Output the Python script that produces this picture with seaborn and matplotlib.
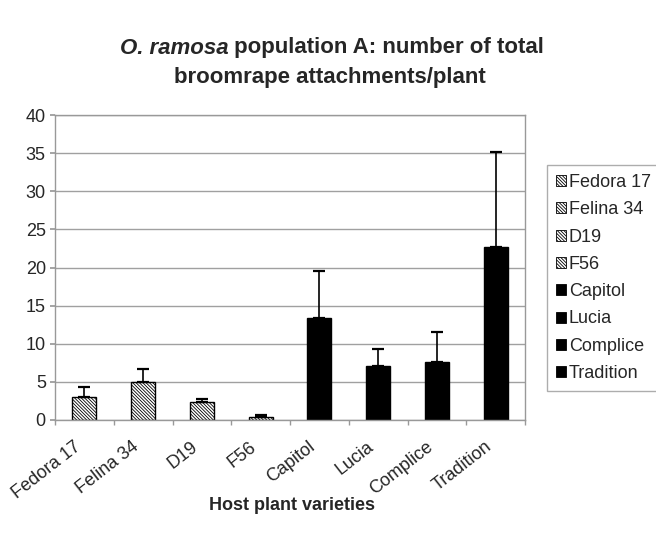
import matplotlib
matplotlib.use("Agg")
import matplotlib.pyplot as plt
import matplotlib.transforms as mtransforms
import seaborn as sns
import pandas as pd
from matplotlib.patches import Patch

varieties = ["Fedora 17", "Felina 34", "D19", "F56", "Capitol", "Lucia", "Complice", "Tradition"]
means = [3.0, 5.0, 2.3, 0.4, 13.4, 7.1, 7.6, 22.7]
errors = [1.3, 1.7, 0.5, 0.2, 6.2, 2.2, 3.9, 12.5]
groups = ["hatched", "hatched", "hatched", "hatched", "black", "black", "black", "black"]
y_ticks = [0, 5, 10, 15, 20, 25, 30, 35, 40]

sns.set_theme(style="white")
plt.rcParams["font.family"] = ["Liberation Sans", "DejaVu Sans"]
plt.rcParams["hatch.linewidth"] = 0.6

HATCH = "\\" * 10

df = pd.DataFrame({"variety": varieties, "mean": means, "err": errors, "group": groups})

fig = plt.figure(figsize=(6.56, 5.4), dpi=100)
ax = fig.add_axes([55/656, 120/540, 470/656, 305/540])

face = {v: ("white" if g == "hatched" else "black") for v, g in zip(varieties, groups)}
sns.barplot(data=df, x="variety", y="mean", hue="variety", palette=face, dodge=False,
            width=0.41, edgecolor="black", linewidth=1.0, legend=False, ax=ax, errorbar=None)

for p, g in zip(ax.patches, groups):
    if g == "hatched":
        p.set_hatch(HATCH)

ax.errorbar(range(len(varieties)), df["mean"], yerr=[[0]*len(errors), df["err"]],
            fmt="none", ecolor="black", elinewidth=1.2, capsize=4, capthick=1.6, zorder=5)

ax.set_ylim(0, 40)
ax.set_xlim(-0.5, len(varieties) - 0.5)
ax.set_yticks(y_ticks)
ax.set_yticklabels([str(t) for t in y_ticks], fontsize=13)
ax.yaxis.grid(True, color="#a0a0a0", linewidth=1.0)
ax.set_axisbelow(True)
for s in ax.spines.values():
    s.set_color("#999999")
    s.set_linewidth(1.0)

ax.set_xticks(range(len(varieties)))
ax.set_xticklabels(varieties, rotation=38, ha="right", va="center", rotation_mode="anchor", fontsize=13)
ax.tick_params(axis="x", length=0, pad=18)
shift = mtransforms.ScaledTranslation(-0.06, 0, fig.dpi_scale_trans)
for lbl in ax.get_xticklabels():
    lbl.set_transform(lbl.get_transform() + shift)
ax.set_xticks([i + 0.5 for i in range(-1, len(varieties))], minor=True)
ax.tick_params(axis="x", which="minor", length=3.6, color="#999999", direction="out", bottom=True)
ax.tick_params(axis="y", length=3.6, color="#999999", direction="out", left=True, pad=3)
ax.set_xlabel("")
ax.set_ylabel("")
fig.text(292/656, 1 - 506/540, "Host plant varieties", fontsize=13, fontweight="bold",
         ha="center", va="center")

# Title with italic species name
fig.canvas.draw()
r = fig.canvas.get_renderer()
t1a = fig.text(0, 1 - 48/540, "O. ramosa", fontsize=16, fontweight="bold", fontstyle="italic", va="center")
t1b = fig.text(0, 1 - 48/540, " population A: number of total", fontsize=16, fontweight="bold", va="center")
wa = t1a.get_window_extent(r).width
wb = t1b.get_window_extent(r).width
start = 332 - (wa + wb) / 2
t1a.set_x(start / 656)
t1b.set_x((start + wa) / 656)
fig.text(330/656, 1 - 78/540, "broomrape attachments/plant", fontsize=16, fontweight="bold",
         ha="center", va="center")

handles = [Patch(facecolor=face[v], edgecolor="black", linewidth=0.6,
                 hatch=(HATCH if g == "hatched" else None))
           for v, g in zip(varieties, groups)]
leg = ax.legend(handles, varieties, loc="upper left", bbox_to_anchor=(547/656, 1 - 165/540),
                bbox_transform=fig.transFigure, borderaxespad=0, frameon=True, fancybox=False,
                fontsize=13, handlelength=0.55, handleheight=0.55, handletextpad=0.15,
                labelspacing=0.57, borderpad=0.5)
leg.get_frame().set_edgecolor("#999999")
leg.get_frame().set_linewidth(1.0)

fig.savefig("out.png", dpi=100)
